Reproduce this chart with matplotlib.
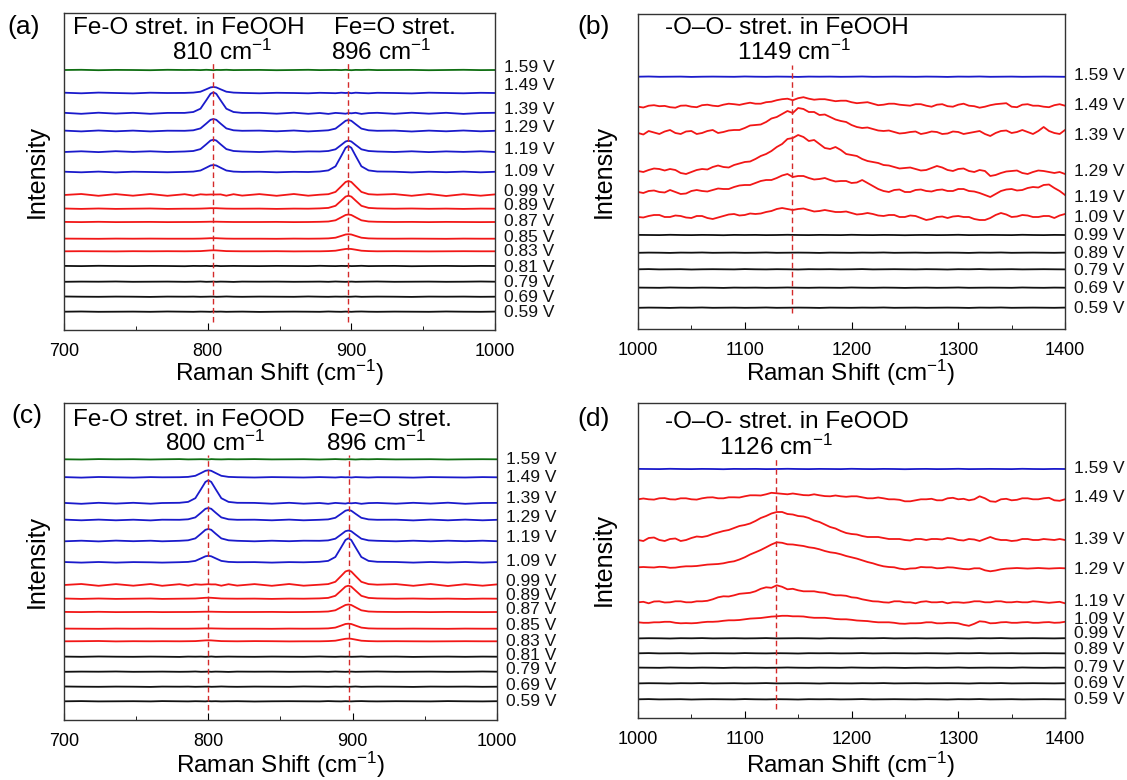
import matplotlib
matplotlib.use("Agg")
import matplotlib.pyplot as plt
import matplotlib.transforms as mtransforms
from matplotlib.ticker import MultipleLocator

plt.rcParams['font.family'] = ['Liberation Sans', 'DejaVu Sans']
plt.rcParams['mathtext.fontset'] = 'custom'
plt.rcParams['mathtext.rm'] = 'Liberation Sans'
plt.rcParams['mathtext.it'] = 'Liberation Sans:italic'

# ---------------- data (units = px above each trace baseline) --------
voltages_ac = ['1.59 V', '1.49 V', '1.39 V', '1.29 V', '1.19 V', '1.09 V', '0.99 V', '0.89 V',
               '0.87 V', '0.85 V', '0.83 V', '0.81 V', '0.79 V', '0.69 V', '0.59 V']
voltages_bd = ['1.59 V', '1.49 V', '1.39 V', '1.29 V', '1.19 V', '1.09 V', '0.99 V', '0.89 V',
               '0.79 V', '0.69 V', '0.59 V']

# panel (a) FeOOH, 700-1000 cm-1
x_a = [700, 712, 724, 736, 748, 760, 772, 784, 790, 795, 799, 802, 804, 806, 809, 813, 818, 824,
       836, 848, 860, 870, 878, 884, 889, 893, 896, 898, 900, 903, 907, 912, 918,
       930, 942, 954, 966, 978, 990, 1000]
a_offsets = [260, 237, 216.7, 199, 178.3, 158, 135, 121.3, 108, 91.3, 78.7, 64, 48.3, 33.3, 18.3]
a_spectra = [
    [0, 0.2, -0.2, 0.1, 0, -0.2, 0.2, 0, 0.1, -0.1, 0.2, 0, -0.2, 0.1, 0, 0.2, -0.1, 0, 0.1, -0.2,
     0, 0.2, -0.1, 0, 0.1, -0.1, 0.2, 0, -0.2, 0.1, 0, 0.2, -0.1, 0, 0.1, -0.2, 0, 0.2, -0.1, 0],
    [0.3, -0.3, 0.4, 0, -0.4, 0.3, 0] + [0.1, 0.4, 1.3, 3.7, 5.6, 6, 5.6, 3.7, 1.3, 0.4, 0.1]
    + [-0.3, 0.2, 0, -0.3] + [0.2, 0, -0.2, 0.3, 0, 0.2, -0.2, 0.3, 0, -0.3, 0.2]
    + [0, -0.4, 0.3, 0, -0.3, 0.2, 0],
    [0.5, -0.5, 0.6, -0.3, 0.5, -0.5, 0.4] + [0.4, 1.3, 4.6, 13.0, 19.5, 21, 19.5, 13.0, 4.6, 1.3, 0.4]
    + [0.5, -0.4, 0.6, -0.5] + [0.3, -0.6, 0.4, 0, -0.4, 0.3, 0, 0.5, -0.6, 0.2, 0.5]
    + [-0.5, 0.6, -0.4, 0.5, -0.6, 0.3, 0.5],
    [0.4, -0.4, 0.5, -0.3, 0.4, -0.4, 0.3] + [0.2, 0.7, 2.6, 7.4, 11.2, 12, 11.2, 7.4, 2.6, 0.7, 0.2]
    + [0.4, -0.3, 0.5, -0.4] + [0.2, 0.7, 2.4, 6.8, 10.2, 11, 10.2, 6.8, 2.4, 0.7, 0.2]
    + [0.4, -0.5, 0.4, -0.3, 0.5, -0.3, 0.2],
    [-0.3, 0.4, -0.4, 0.5, -0.2, 0.4, -0.3] + [0.2, 0.7, 2.6, 7.4, 11.2, 12, 11.2, 7.4, 2.6, 0.7, 0.2]
    + [-0.3, 0.4, -0.2, 0.3] + [0.2, 0.7, 2.4, 6.8, 10.2, 11, 10.2, 6.8, 2.4, 0.7, 0.2]
    + [-0.3, 0.4, -0.4, 0.3, -0.2, 0.4, -0.3],
    [0.3, -0.3, 0.4, -0.4, 0.3, 0, -0.3] + [0.1, 0.4, 1.5, 4.3, 6.5, 7, 6.5, 4.3, 1.5, 0.4, 0.1]
    + [0.3, -0.3, 0.2, 0] + [0.5, 1.6, 5.7, 16.1, 24.2, 26, 24.2, 16.1, 5.7, 1.6, 0.5]
    + [0.3, -0.4, 0.3, -0.2, 0.4, -0.3, 0.2],
    [0, 1.0, -0.8, 0.9, -0.7, 1.0, -0.8] + [0.8, -0.6, 0.7, 0.3, 0.5, 0.5, 0.5, 0.6, -0.7, 0.8, -0.6]
    + [0.9, -0.8, 1.0, -0.7] + [0.3, 0.8, 3.1, 8.7, 13.0, 14, 13.0, 8.7, 3.1, 0.8, 0.3]
    + [0.9, -0.8, 1.0, -1.0, 0.8, -0.7, 0.6],
    [0.2, -0.2, 0.2, -0.2, 0, 0.2, -0.2] + [0, 0, 0.1, 0.3, 0.5, 0.5, 0.5, 0.3, 0.1, 0, 0]
    + [0.1, -0.2, 0.1, 0] + [0.3, 0.8, 2.9, 8.1, 12.1, 13, 12.1, 8.1, 2.9, 0.8, 0.3]
    + [0, 0.2, -0.1, 0.1, -0.2, 0.1, 0],
    [0.1, -0.1, 0.2, -0.1, 0, 0.1, -0.1] + [0, 0, 0.1, 0.2, 0.3, 0.3, 0.3, 0.2, 0.1, 0, 0]
    + [0, 0.1, -0.1, 0] + [0.2, 0.5, 1.7, 4.7, 7.0, 7.5, 7.0, 4.7, 1.7, 0.5, 0.2]
    + [0, 0.1, -0.1, 0.1, 0, -0.1, 0],
    [0.1, 0, -0.1, 0.1, 0, 0.1, 0] + [0, 0, 0.1, 0.3, 0.5, 0.5, 0.5, 0.3, 0.1, 0, 0]
    + [0, -0.1, 0.1, 0] + [0.1, 0.3, 1.0, 2.8, 4.2, 4.5, 4.2, 2.8, 1.0, 0.3, 0.1]
    + [0, 0.1, 0, -0.1, 0.1, 0, 0],
    [0, 0.1, 0, -0.1, 0.1, 0, 0.1] + [0, 0.1, 0.2, 0.6, 0.9, 1, 0.9, 0.6, 0.2, 0.1, 0]
    + [0, 0.1, -0.1, 0] + [0, 0.2, 0.6, 1.6, 2.3, 2.5, 2.3, 1.6, 0.6, 0.2, 0]
    + [0.1, 0, -0.1, 0, 0.1, 0, 0],
    [0.1, -0.1, 0.2, 0, -0.1, 0.1, 0, -0.2, 0.1, 0, 0.1, -0.1, 0, 0.2, -0.1, 0, 0.1, 0, -0.1, 0.1,
     0, -0.1, 0.2, 0, -0.1, 0.1, 0, 0.1, -0.1, 0, 0.2, -0.1, 0, 0.1, -0.2, 0, 0.1, -0.1, 0.1, 0],
    [-0.1, 0.1, 0, 0.2, -0.1, 0, 0.1, -0.1, 0, 0.2, -0.1, 0, 0.1, -0.1, 0.1, 0, -0.2, 0.1, 0, 0.1,
     -0.1, 0, 0.1, -0.1, 0.2, 0, -0.1, 0, 0.1, -0.1, 0, 0.1, 0.2, -0.1, 0, 0.1, -0.1, 0, 0.2, 0],
    [0.2, 0, -0.1, 0.1, 0, -0.2, 0.1, 0, 0.1, -0.1, 0, 0.1, 0.1, -0.1, 0, 0.2, 0, -0.1, 0.1, 0,
     -0.1, 0.2, 0, -0.1, 0.1, 0, 0.1, -0.1, 0, 0.2, -0.1, 0, 0.1, 0, -0.2, 0.1, 0, 0.1, -0.1, 0],
    [0, 0.2, -0.1, 0, 0.1, -0.1, 0.2, 0, -0.1, 0.1, 0, -0.1, 0.2, 0, 0.1, -0.1, 0, 0.1, -0.2, 0,
     0.1, 0, -0.1, 0.2, 0, -0.1, 0.1, 0, -0.1, 0.1, 0.2, 0, -0.1, 0.1, 0, -0.1, 0.2, 0, -0.1, 0.1],
]

# panel (c) FeOOD, 700-1000 cm-1
x_c = [700, 712, 724, 736, 748, 760, 768, 780, 786, 791, 795, 798, 800, 802, 805, 809, 814, 820,
       832, 844, 856, 866, 877, 883, 888, 892, 895, 897, 899, 902, 906, 911, 917,
       930, 942, 954, 966, 978, 990, 1000]
c_offsets = [260.7, 242.7, 216.7, 200, 179, 157.7, 135, 121.3, 108, 91.3, 78.7, 63.3, 48.3, 33.3, 18.7]
c_spectra = [
    [0, -0.2, 0.2, 0, 0.1, -0.2, 0, 0.2, -0.1, 0, 0.1, 0, -0.2, 0.2, 0, -0.1, 0.1, 0, 0.2, -0.1,
     0, 0.1, -0.2, 0, 0.2, 0, -0.1, 0.1, 0, -0.2, 0.1, 0, 0.2, -0.1, 0, 0.1, -0.2, 0, 0.1, 0],
    [0.2, -0.3, 0.3, 0, -0.3, 0.2, 0] + [0.1, 0.4, 1.5, 4.3, 6.5, 7, 6.5, 4.3, 1.5, 0.4, 0.1]
    + [-0.2, 0.2, 0, -0.2] + [0.2, 0, -0.2, 0.2, 0, 0.1, -0.2, 0.2, 0, -0.2, 0.1]
    + [0, -0.3, 0.2, 0, -0.2, 0.2, 0],
    [0.4, -0.5, 0.5, -0.3, 0.5, -0.4, 0.3] + [0.5, 1.4, 5.1, 14.3, 21.4, 23, 21.4, 14.3, 5.1, 1.4, 0.5]
    + [0.4, -0.4, 0.5, -0.4] + [0.3, -0.5, 0.4, 0, -0.3, 0.3, 0, 0.4, -0.5, 0.2, 0.4]
    + [-0.4, 0.5, -0.3, 0.6, -0.5, 0.3, 0.4],
    [0.4, -0.3, 0.4, -0.3, 0.3, -0.4, 0.3] + [0.2, 0.7, 2.6, 7.4, 11.2, 12, 11.2, 7.4, 2.6, 0.7, 0.2]
    + [0.3, -0.3, 0.4, -0.3] + [0.2, 0.6, 2.2, 6.2, 9.3, 10, 9.3, 6.2, 2.2, 0.6, 0.2]
    + [0.3, -0.4, 0.4, -0.3, 0.4, -0.3, 0.2],
    [-0.3, 0.3, -0.4, 0.4, -0.2, 0.3, -0.3] + [0.2, 0.7, 2.6, 7.4, 11.2, 12, 11.2, 7.4, 2.6, 0.7, 0.2]
    + [-0.3, 0.3, -0.2, 0.3] + [0.2, 0.6, 2.3, 6.5, 9.8, 10.5, 9.8, 6.5, 2.3, 0.6, 0.2]
    + [-0.3, 0.3, -0.3, 0.3, -0.2, 0.3, -0.2],
    [0.3, -0.3, 0.3, -0.3, 0.2, 0, -0.3] + [0.1, 0.4, 1.4, 4.0, 6.0, 6.5, 6.0, 4.0, 1.4, 0.4, 0.1]
    + [0.2, -0.3, 0.2, 0] + [0.5, 1.4, 5.3, 14.9, 22.3, 24, 22.3, 14.9, 5.3, 1.4, 0.5]
    + [0.3, -0.3, 0.3, -0.2, 0.3, -0.3, 0.2],
    [0, 1.0, -0.8, 0.9, -0.7, 1.0, -0.8] + [0.8, -0.6, 0.7, 0.3, 0.6, 0.8, 0.6, 0.6, -0.7, 0.8, -0.6]
    + [0.9, -0.8, 1.0, -0.7] + [0.3, 0.9, 3.2, 9.0, 13.5, 14.5, 13.5, 9.0, 3.2, 0.9, 0.3]
    + [0.9, -0.8, 1.0, -1.0, 0.8, -0.7, 0.6],
    [0.2, -0.2, 0.2, -0.2, 0, 0.2, -0.2] + [0, 0.1, 0.2, 0.6, 0.9, 1, 0.9, 0.6, 0.2, 0.1, 0]
    + [0.1, -0.2, 0.1, 0] + [0.3, 0.8, 2.9, 8.1, 12.1, 13, 12.1, 8.1, 2.9, 0.8, 0.3]
    + [0, 0.2, -0.1, 0.1, -0.2, 0.1, 0],
    [0.1, -0.1, 0.2, -0.1, 0, 0.1, -0.1] + [0, 0, 0.1, 0.2, 0.3, 0.3, 0.3, 0.2, 0.1, 0, 0]
    + [0, 0.1, -0.1, 0] + [0.2, 0.5, 1.7, 4.7, 7.0, 7.5, 7.0, 4.7, 1.7, 0.5, 0.2]
    + [0, 0.1, -0.1, 0.1, 0, -0.1, 0],
    [0.1, 0, -0.1, 0.1, 0, 0.1, 0] + [0, 0, 0.1, 0.2, 0.3, 0.3, 0.3, 0.2, 0.1, 0, 0]
    + [0, -0.1, 0.1, 0] + [0.1, 0.3, 1.1, 3.1, 4.7, 5, 4.7, 3.1, 1.1, 0.3, 0.1]
    + [0, 0.1, 0, -0.1, 0.1, 0, 0],
    [0, 0.1, 0.3, -0.1, 0.1, 0, 0.1] + [0, 0.1, 0.2, 0.6, 0.9, 1, 0.9, 0.6, 0.2, 0.1, 0]
    + [0.2, 0.1, -0.1, 0] + [0, 0.2, 0.6, 1.7, 2.5, 2.7, 2.5, 1.7, 0.6, 0.2, 0]
    + [0.1, 0, -0.1, 0, 0.1, 0, 0],
    [0.1, -0.1, 0.2, 0, -0.1, 0.1, 0, -0.2, 0.1, 0, 0.1, -0.1, 0, 0.2, -0.1, 0, 0.1, 0, -0.1, 0.1,
     0, -0.1, 0.2, 0, -0.1, 0.1, 0, 0.1, -0.1, 0, 0.2, -0.1, 0, 0.1, -0.2, 0, 0.1, -0.1, 0.1, 0],
    [-0.1, 0.1, 0, 0.2, -0.1, 0, 0.1, -0.1, 0, 0.2, -0.1, 0, 0.1, -0.1, 0.1, 0, -0.2, 0.1, 0, 0.1,
     -0.1, 0, 0.1, -0.1, 0.2, 0, -0.1, 0, 0.1, -0.1, 0, 0.1, 0.2, -0.1, 0, 0.1, -0.1, 0, 0.2, 0],
    [0.2, 0, -0.1, 0.1, 0, -0.2, 0.1, 0, 0.1, -0.1, 0, 0.1, 0.1, -0.1, 0, 0.2, 0, -0.1, 0.1, 0,
     -0.1, 0.2, 0, -0.1, 0.1, 0, 0.1, -0.1, 0, 0.2, -0.1, 0, 0.1, 0, -0.2, 0.1, 0, 0.1, -0.1, 0],
    [0, 0.2, -0.1, 0, 0.1, -0.1, 0.2, 0, -0.1, 0.1, 0, -0.1, 0.2, 0, 0.1, -0.1, 0, 0.1, -0.2, 0,
     0.1, 0, -0.1, 0.2, 0, -0.1, 0.1, 0, -0.1, 0.1, 0.2, 0, -0.1, 0.1, 0, -0.1, 0.2, 0, -0.1, 0.1],
]

# panels (b) and (d), 1000-1400 cm-1; flat traces every 10 cm-1, red traces every 5 cm-1
x_bd = list(range(1000, 1401, 10))
x_bd_fine = list(range(1000, 1401, 5))
flat_1 = [0, 0.2, -0.1, 0, 0.1, -0.2, 0, 0.1, 0, -0.1, 0.2, 0, -0.1, 0.1, 0, -0.2, 0.1, 0, 0.1, -0.1,
          0, 0.2, -0.1, 0, 0.1, 0, -0.1, 0.1, 0, -0.2, 0.1, 0, 0.2, -0.1, 0, 0.1, -0.1, 0, 0.1, 0, -0.1]
flat_2 = [0.1, 0, -0.1, 0.2, 0, -0.1, 0.1, 0, -0.2, 0.1, 0, 0.1, -0.1, 0, 0.2, 0, -0.1, 0.1, 0, -0.1,
          0.2, 0, -0.1, 0.1, 0, -0.2, 0, 0.1, -0.1, 0, 0.2, -0.1, 0, 0.1, 0, -0.1, 0.2, 0, -0.1, 0.1, 0]
flat_3 = [-0.1, 0.1, 0, -0.2, 0.1, 0, 0.2, -0.1, 0, 0.1, -0.1, 0, 0.2, -0.1, 0, 0.1, 0, -0.2, 0.1, 0,
          -0.1, 0.1, 0, 0.2, -0.1, 0, 0.1, -0.1, 0, 0.1, 0, -0.2, 0.1, 0, 0.2, -0.1, 0, 0.1, 0, -0.1, 0.1]

b_offsets = [252.3, 222.3, 196, 158, 137, 112, 94, 76.3, 59.7, 41.3, 21.3]
b_spectra = [
    flat_1,
    [0, -0.8, 1, 1.5, 0.5, 0.8, -0.5, -1, 1, 1.2, 0, -0.5, 1.5, 2, 1, 0.5, 2, 3, 2.5, 1.8,
     3, 4, 3, 3, 4.5, 5, 6.5, 7.5, 8, 6.5, 8.5, 9.5, 8, 7, 7.5, 7.5, 6.5, 5.5, 6, 6,
     4.5, 3.5, 4, 4.5, 3, 1.5, 2, 3, 3, 2, 1.5, 1, 2.5, 2.5, 1, 0, 2, 2.5, 0.5, 0,
     2, 3, 1, 0.5, -1, 0, 1.5, 2.5, 3, 3.5, 0, -0.5, 2, 2.5, 1, 1, 0, -0.5, 1.5, 2.5, 1],
    [0, -1.5, 2, 0.5, -1, 1.5, 3, 0, -1, 1.5, 2, -1, 0, 2, 3, 0, 1, 2.5, 3, 3,
     5, 7.5, 8, 8.5, 11, 14.5, 16, 19, 22, 20, 25, 24, 21, 21, 18, 18.5, 16, 13.5, 12, 11,
     8, 6, 5, 5.5, 4, 2.5, 2, 2.5, 1, -0.5, 0, 1, 1.5, -1, 0, 1.5, 1, -1, -0.5, 1.5,
     1, -1, 0, 1, 2, -1, -3, 0, 2, 2.5, 0, 1, 3, 1, -1, 2, 6, 2, 0, -1, 3],
    [0, -1, 1, 2.5, 2, 0.5, 2, 1, -2, -3, -1, 1, 2, 1.5, 4, 5.5, 4, 3.5, 6, 7.5,
     9, 9.5, 12, 15, 17, 20, 24, 27, 32, 33, 36, 34, 30, 31, 27, 23, 22, 24, 21, 17,
     16, 15, 12, 10, 9, 8, 6, 5.5, 4, 2.5, 3, 3.5, 2, 0.5, 1, 3, 5, 3.5, 1, 0,
     2, 2.5, 0, -1, 1, 0, -5, -4, -2, -0.5, 0, 0.5, -2, -3, -1, 0.5, 0, -1, -2, -1, -3],
    [0, -1, 1, 1.5, 0, -0.5, 2, 0, -2, -1.5, 1, 2, 1, 0.5, 2, 3.5, 3, 3, 5, 6.5,
     7, 7, 9, 11, 12, 12, 14, 16.5, 18, 15, 16, 16, 14, 12.5, 13, 14, 12, 10.5, 11, 11,
     9, 9.5, 12, 9, 6, 3, 1, 0, 2, 2.5, 0, 0, 2, 2.5, 1, 0.5, 2, 2.5, 1, 1,
     3, 3, 1, 0.5, -1, -3, -5, -2, 1, 2.5, 3, 1.5, 2, 4, 5, 4.5, 7, 7.5, 4, 1, -3],
    [0, -0.5, 1, 2, 2, 0, 0, 1.5, 1, -0.5, -1, 1, 1, -1, -2, -0.5, 1, 2.5, 3, 1.5,
     2, 3.5, 3, 3.5, 5, 6, 8, 9, 8, 7, 8, 8.5, 7, 5.5, 6, 7, 6, 5, 5, 5.5,
     4, 2.5, 3, 4, 3, 1.5, 1, 2, 2, 0, 0, 1.5, 1, -1, -3, -2, 0, 0.5, -1, 0.5,
     1, 0, 0, -2, -3, -3, -1, 2, 4, 2.5, 0, 0.5, 2, 1.5, 0, 0, 1, 1, -1, 1.5, 3],
    flat_2, flat_3, flat_1, flat_2, flat_3,
]
b_grids = [x_bd] + [x_bd_fine] * 5 + [x_bd] * 5

d_offsets = [249, 218.7, 178, 150.7, 115.7, 95.7, 79.7, 64.7, 50.3, 34.7, 18.7]
d_spectra = [
    flat_2,
    [0, 0.8, 0, -0.3, 1, 1.2, 0, -0.2, 1, 1, 0, -0.3, 1, 1.8, 2, 1, 1, 2, 2, 1.8,
     3, 4, 4, 3.8, 5, 6.5, 6, 5.5, 5, 5.8, 5, 4.2, 4, 5, 4, 3.2, 3, 3.8, 3, 2.5,
     3, 3, 2, 1, 1, 1.8, 1, 0, 0, -0.5, -2, -2, -1, 0, 0, 0.5, -1, -1, 1, 1.5,
     0, 0.5, -1, 0, 3, 1, -2, -2.5, 0, 0.5, -1, -0.5, 1, 1, 0, 0, 1, 1.5, -1, -1.5, 0],
    [0, -1, 2, 2.5, 0, -1, 1, 1.5, -1, 0, 2, 3.5, 3, 4, 6, 7.5, 9, 10, 12, 14,
     15, 16.5, 19, 22, 24, 26.5, 28, 28, 26, 25.5, 24, 23.5, 22, 19.5, 18, 15.5, 13, 11.5, 9, 7,
     6, 5.5, 4, 3, 3, 3, 2, 1, 1, 1, 0, -0.5, 1, 1, 0, 1, 1, 0.5, 2, 1.5,
     0, -0.5, 1, 0.5, -1, 1, 3, 1, 0, 0, -1, -0.5, 1, 1, 0, 0, 1, 0.5, 0, 1, 0],
    [0, 0.3, 0, -0.2, 0.5, 0.3, -0.5, -0.3, 0.5, 1, 1, 1.3, 2, 2.7, 3, 3.3, 4, 5.2, 6, 7.8,
     10, 12.8, 15, 17.3, 20, 22.8, 25, 24.5, 23, 22.8, 22, 21.3, 20, 19.3, 18, 16.3, 15, 14.3, 13, 11.3,
     10, 8.7, 7, 5.3, 4, 2.3, 1, 0.3, 0, -1.3, -2, -1.2, -1, 0.3, 0, 0, -1, -0.8, 0, -0.2,
     -1, -1.7, -2, -1, -1, -3, -4, -3.2, -2, -1.3, -1, -0.7, -1, -1.3, -1, -0.7, -1, -1.3, -1, -0.8, -1],
    [0, 0.5, -1, 0.8, 1, -0.2, 0, 1, 1, 0, 0, 1, 1, 1.5, 3, 5, 6, 5.8, 7, 8.5,
     9, 9.5, 11, 13.5, 15, 14.5, 17, 15.5, 13, 13.5, 12, 11, 11, 11, 10, 9.5, 8, 7, 7, 6.5,
     5, 4.5, 3, 2, 1, 0.8, 0, -0.3, 1, 1, 0, 0, -1, 0.5, 1, 0, 0, 0.5, -1, 0,
     0, -0.5, 0, 1, 1, 0, 0, 1, 1, 0, 0, 0.6, 0, 0, 1, 0.6, 0, -0.5, 0, 0.5, -1],
    [0, -0.5, -0.5, 0, 0, 0.5, 0.5, -0.5, -1, -0.8, -1, -0.7, 0, 0.5, 0.5, 0.8, 1.5, 2, 2, 2.3,
     3, 3.7, 4, 4.3, 5, 5.7, 6, 6.5, 6.5, 6, 6, 5.8, 5, 4.5, 4.5, 4.5, 4, 3.3, 3, 3,
     2.5, 1.8, 1.5, 1.2, 0.5, 0, 0, 0, -0.5, -1.3, -1.5, -1, -1, -0.8, 0, 0, -1, -1, -0.5, -0.5,
     -1, -2.5, -3.5, -1.5, 1, 0.5, -1, -0.8, 0, 0.2, -0.5, -0.5, 0, 0.2, -0.5, -0.5, 0, 0.2, -0.5, -0.3, 0.5],
    flat_3, flat_1, flat_2, flat_3, flat_1,
]
d_grids = [x_bd] + [x_bd_fine] * 5 + [x_bd] * 5

# ---------------- styling ----------------
GREEN, BLUE, RED, BLACK = '#0f6e12', '#1a1acb', '#f21616', '#111111'
colors_ac = [GREEN] + [BLUE] * 5 + [RED] * 5 + [BLACK] * 4
colors_bd = [BLUE] + [RED] * 5 + [BLACK] * 5

W, H = 1127, 780
fig = plt.figure(figsize=(W / 100, H / 100), dpi=100)


def fx(x):
    return x / W


def fy(y):
    return 1 - y / H


def add_ax(l, r, t, b):
    return fig.add_axes([l / W, 1 - b / H, (r - l) / W, (b - t) / H])


def panel(ax, grids, spectra, offsets, colors, labels, label_y, xlim, ytop, dashes):
    for x, y, off, c in zip(grids, spectra, offsets, colors):
        ax.plot(x, [v + off for v in y], color=c, lw=1.3, solid_joinstyle='round')
    for xd, y0, y1 in dashes:
        ax.plot([xd, xd], [y0, y1], ls=(0, (4, 2.5)), color='#d42a2a', lw=1.0)
    trans = mtransforms.blended_transform_factory(ax.transAxes, ax.transData)
    for lab, ly in zip(labels, label_y):
        ax.text(1.02, ly, lab, transform=trans, ha='left', va='center', fontsize=12.5, color='#111111')
    ax.set_xlim(*xlim)
    ax.set_ylim(0, ytop)
    ax.set_yticks([])
    ax.xaxis.set_major_locator(MultipleLocator(100))
    ax.xaxis.set_minor_locator(MultipleLocator(50))
    ax.tick_params(axis='x', which='both', direction='in', top=False, labelsize=13, pad=9)
    ax.tick_params(axis='x', which='major', length=5)
    ax.tick_params(axis='x', which='minor', length=3)
    for s in ax.spines.values():
        s.set_linewidth(1.0)
        s.set_color('#333333')


ax_a = add_ax(64, 495, 13, 330)
panel(ax_a, [x_a] * 15, a_spectra, a_offsets, colors_ac, voltages_ac,
      [262, 244, 221, 202, 180, 158, 138, 125, 109, 92, 79, 63, 48, 33, 18],
      (700, 1000), 317, [(804, 8, 267), (898, 8, 267)])

ax_b = add_ax(638, 1065, 14, 329)
panel(ax_b, b_grids, b_spectra, b_offsets, colors_bd, voltages_bd,
      [254, 224, 194, 157, 131, 112, 94, 75, 59, 41, 21],
      (1000, 1400), 315, [(1144, 16, 264)])

ax_c = add_ax(64, 497, 403, 720)
panel(ax_c, [x_c] * 15, c_spectra, c_offsets, colors_ac, voltages_ac,
      [261, 243, 222, 202, 182, 158, 138, 125, 110, 94, 79, 64, 50, 35, 18],
      (700, 1000), 317, [(800, 10, 265), (897.4, 10, 265)])

ax_d = add_ax(638, 1065, 403, 718)
panel(ax_d, d_grids, d_spectra, d_offsets, colors_bd, voltages_bd,
      [249, 220, 178, 148, 117, 98, 84, 68, 51, 34, 18],
      (1000, 1400), 315, [(1129, 9, 261)])

# axis titles
xl = 'Raman Shift (cm$^{-1}$)'
for cx, cy in [(280, 373), (851, 373), (281, 765), (851, 765)]:
    fig.text(fx(cx), fy(cy), xl, ha='center', va='center', fontsize=17.5)
for cx, cy in [(37, 171), (604, 171), (37, 561), (604, 560)]:
    fig.text(fx(cx), fy(cy), 'Intensity', ha='center', va='center', rotation=90, fontsize=18)

# panel letters
for lab, cx, cy in [('(a)', 24, 27), ('(b)', 594, 27), ('(c)', 27, 416), ('(d)', 594, 419)]:
    fig.text(fx(cx), fy(cy), lab, ha='center', va='center', fontsize=19)

# band annotations
ann = [
    ('Fe-O stret. in FeOOH', 73, 28, 'left'), ('810 cm$^{-1}$', 222, 52, 'center'),
    ('Fe=O stret.', 334, 28, 'left'), ('896 cm$^{-1}$', 381, 52, 'center'),
    ('-O\u2013O- stret. in FeOOH', 665, 28, 'left'), ('1149 cm$^{-1}$', 794, 52, 'center'),
    ('Fe-O stret. in FeOOD', 73, 420, 'left'), ('800 cm$^{-1}$', 215, 443, 'center'),
    ('Fe=O stret.', 330, 420, 'left'), ('896 cm$^{-1}$', 376, 443, 'center'),
    ('-O\u2013O- stret. in FeOOD', 665, 422, 'left'), ('1126 cm$^{-1}$', 776, 447, 'center'),
]
for txt, cx, cy, ha in ann:
    fig.text(fx(cx), fy(cy), txt, ha=ha, va='center', fontsize=17.5)

fig.savefig('out.png', dpi=100)
